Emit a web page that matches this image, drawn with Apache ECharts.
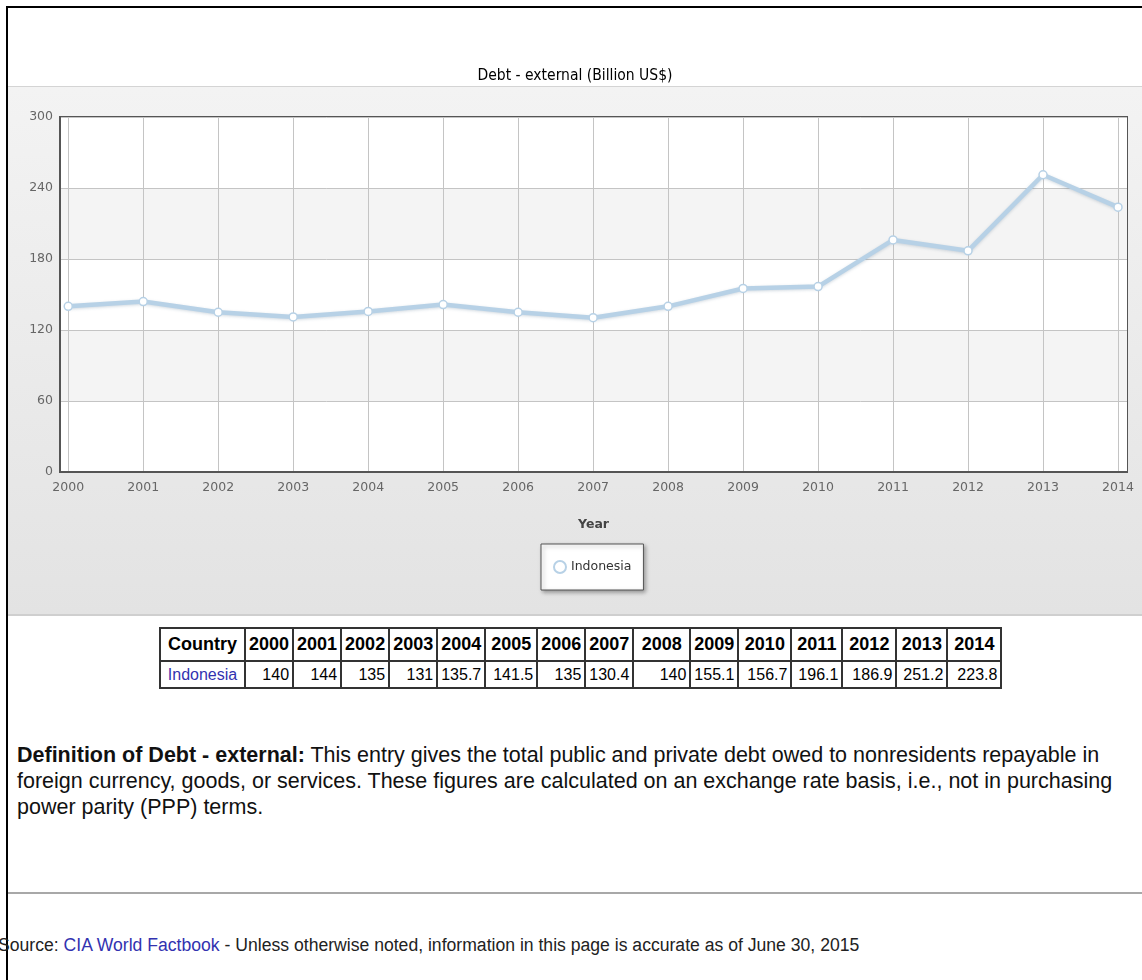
<!DOCTYPE html>
<html>
<head>
<meta charset="utf-8">
<script src="https://cdn.jsdelivr.net/npm/echarts@6/dist/echarts.min.js"></script>
<style>
  html, body { margin: 0; padding: 0; background: #fff; width: 1142px; height: 980px; overflow: hidden; position: relative; }
  #frame { position: absolute; left: 6px; top: 6px; width: 1200px; height: 1000px; border-left: 2px solid #000; border-top: 2px solid #000; }
  #chart { position: absolute; left: 8px; top: 8px; width: 1134px; height: 608px;
    background: linear-gradient(to bottom, #fff 0px, #fff 78px, #d4d4d4 78px, #d4d4d4 79px, #f3f3f3 79px, #e3e3e3 606px, #cfcfcf 606px, #cfcfcf 608px); }
  #tbl { position: absolute; left: 159px; top: 627px; border-collapse: separate; border-spacing: 0; border: 1px solid #333;
    font-family: "Liberation Sans Narrow", "Arial Narrow", "Liberation Sans", sans-serif; color: #000; }
  #tbl td { border: 1px solid #333; padding: 0 3px; }
  #tbl tr.h td { font-weight: bold; font-size: 18px; text-align: center; height: 31px; }
  #tbl tr.d td { font-size: 16px; text-align: right; height: 25px; }
  #tbl a, #src a { color: #3232b0; text-decoration: none; }
  #def { position: absolute; left: 17px; top: 742px; width: 1125px; font-family: "Liberation Sans Narrow", "Arial Narrow", "Liberation Sans", sans-serif;
    font-size: 21.5px; line-height: 26px; color: #111; }
  #rule { position: absolute; left: 8px; top: 892px; width: 1134px; height: 0; border-top: 2px solid #a8a8a8; }
  #src { position: absolute; left: -2px; top: 935px; font-family: "Liberation Sans Narrow", "Arial Narrow", "Liberation Sans", sans-serif;
    font-size: 17.6px; color: #222; white-space: nowrap; }
</style>
</head>
<body>
<div id="frame"></div>
<div id="chart"></div>
<table id="tbl"><tbody id="tbody"></tbody></table>
<div id="def"><b>Definition of Debt - external:</b> This entry gives the total public and private debt owed to nonresidents repayable in foreign currency, goods, or services. These figures are calculated on an exchange rate basis, i.e., not in purchasing power parity (PPP) terms.</div>
<div id="rule"></div>
<div id="src">Source: <a href="#">CIA World Factbook</a> - Unless otherwise noted, information in this page is accurate as of June 30, 2015</div>
<script>
const years = [2000, 2001, 2002, 2003, 2004, 2005, 2006, 2007, 2008, 2009, 2010, 2011, 2012, 2013, 2014];
const indonesia = [140, 144, 135, 131, 135.7, 141.5, 135, 130.4, 140, 155.1, 156.7, 196.1, 186.9, 251.2, 223.8];
const yTicks = [0, 60, 120, 180, 240, 300];
const countryName = 'Indonesia';
const chartTitle = 'Debt - external (Billion US$)';

// table
const colW = [85, 47, 47, 47, 47, 48, 52, 48, 47, 57, 47, 53, 51, 54, 51, 54];
const tb = document.getElementById('tbody');
let h = '<tr class="h"><td style="width:' + (colW[0]-8) + 'px">Country</td>';
years.forEach((y, i) => { h += '<td style="width:' + (colW[i+1]-8) + 'px">' + y + '</td>'; });
h += '</tr><tr class="d"><td style="text-align:center"><a href="#">' + countryName + '</a></td>';
indonesia.forEach(v => { h += '<td>' + v + '</td>'; });
h += '</tr>';
tb.innerHTML = h;

const chart = echarts.init(document.getElementById('chart'), null, { renderer: 'canvas' });
const lineColor = '#b7d1e6';
chart.setOption({
  animation: false,
  title: {
    text: chartTitle, left: 'center', top: 55,
    textStyle: { fontFamily: '"Liberation Sans Narrow", "DejaVu Sans Condensed", "Liberation Sans", sans-serif', fontSize: 15.5, fontWeight: 'normal', color: '#000' }
  },
  legend: {
    data: [{ name: countryName, icon: 'circle' }],
    left: 533, top: 536, orient: 'horizontal',
    padding: [16, 12, 16, 12],
    itemWidth: 12, itemHeight: 12, itemGap: 6,
    backgroundColor: '#fff', borderColor: '#555', borderWidth: 1,
    shadowBlur: 4, shadowOffsetX: 2, shadowOffsetY: 2, shadowColor: 'rgba(0,0,0,0.35)',
    textStyle: { fontFamily: '"DejaVu Sans", sans-serif', fontSize: 12.5, color: '#333' },
    itemStyle: { color: '#fff', borderColor: lineColor, borderWidth: 2 }
  },
  grid: {
    left: 52, right: 15, top: 109, bottom: 144,
    show: true, borderColor: '#555', borderWidth: 2, backgroundColor: 'transparent'
  },
  xAxis: {
    type: 'value', min: 1999.89, max: 2014.12,
    name: 'Year', nameLocation: 'middle', nameGap: 46,
    nameTextStyle: { fontFamily: '"DejaVu Sans", sans-serif', fontSize: 12.5, fontWeight: 'bold', color: '#444' },
    axisLine: { show: true, onZero: false, lineStyle: { color: '#555', width: 2 } },
    axisTick: { show: false, customValues: years },
    axisLabel: { customValues: years, color: '#666', fontFamily: '"DejaVu Sans", sans-serif', fontSize: 12.5, margin: 9,
      formatter: v => String(Math.round(v)) },
    splitLine: { show: true, lineStyle: { color: '#c4c4c4', width: 1 } }
  },
  yAxis: {
    type: 'value', min: 0, max: 300, interval: 60,
    axisLine: { show: true, lineStyle: { color: '#555', width: 2 } },
    axisTick: { show: false },
    axisLabel: { color: '#666', fontFamily: '"DejaVu Sans", sans-serif', fontSize: 12.5, margin: 7,
      customValues: yTicks },
    splitLine: { show: true, lineStyle: { color: '#c4c4c4', width: 1 } },
    splitArea: { show: true, areaStyle: { color: ['#ffffff', '#f4f4f4'] } }
  },
  series: [{
    name: countryName, type: 'line',
    data: years.map((y, i) => [y, indonesia[i]]),
    symbol: 'circle', symbolSize: 8, showSymbol: true,
    lineStyle: { color: lineColor, width: 4.5, shadowColor: 'rgba(80,110,140,0.25)', shadowBlur: 3, shadowOffsetY: 1 },
    itemStyle: { color: '#fff', borderColor: lineColor, borderWidth: 1.5 },
    z: 3
  }]
});
</script>
</body>
</html>
